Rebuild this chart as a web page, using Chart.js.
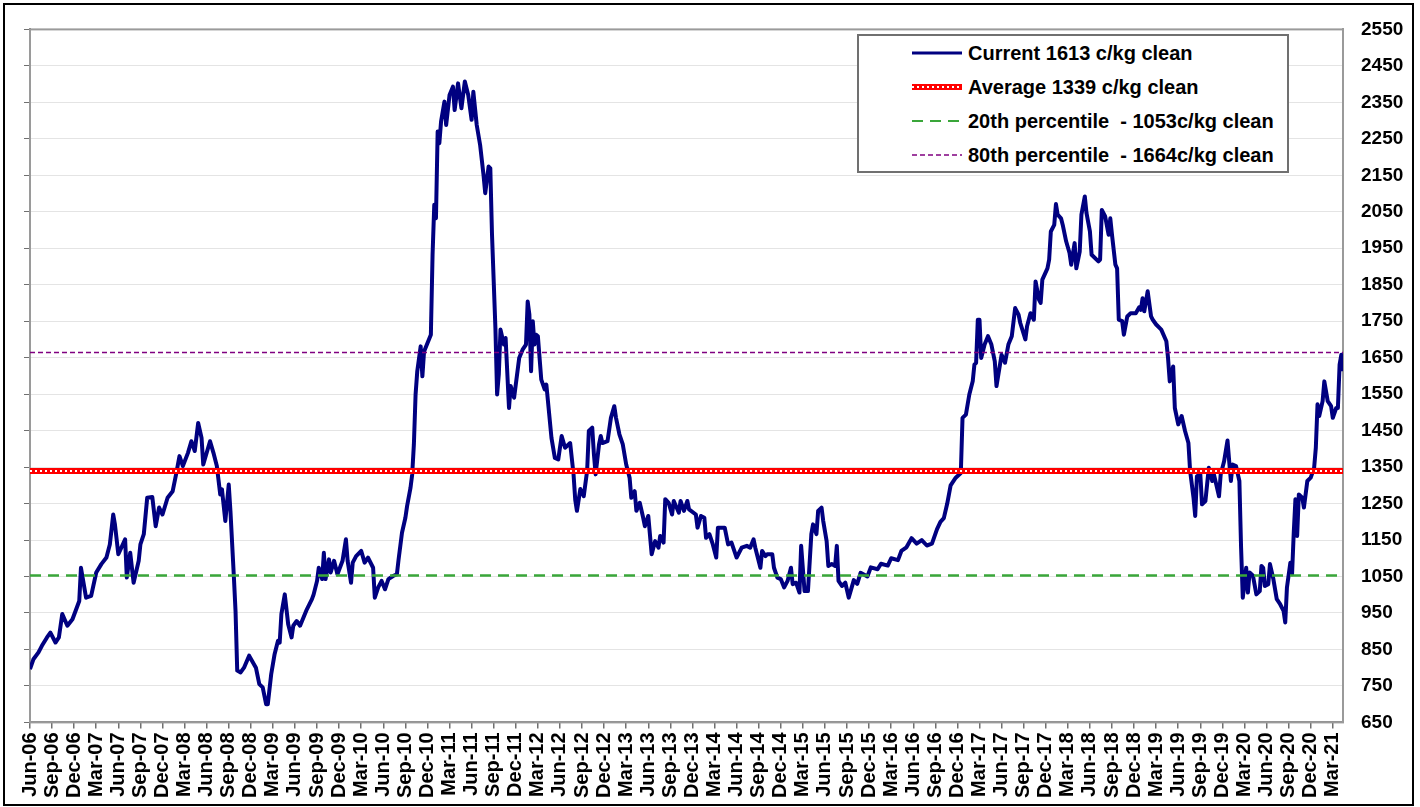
<!DOCTYPE html>
<html>
<head>
<meta charset="utf-8">
<script src="https://cdn.jsdelivr.net/npm/chart.js@4/dist/chart.umd.min.js"></script>
<style>
  body { margin: 0; background: #fff; }
  #wrap { position: relative; width: 1420px; height: 807px; font-family: Arial, "Liberation Sans", sans-serif; }
  #frame { position: absolute; left: 3px; top: 3px; width: 1411px; height: 803px; box-sizing: border-box; border: 2px solid #000; pointer-events: none; }
  #legend { position: absolute; left: 857px; top: 34px; width: 432px; height: 139px; box-sizing: border-box; border: 2px solid #707070; background: #fff; }
  .row { display: flex; align-items: center; height: 34px; padding-left: 53px; font-weight: bold; font-size: 20px; color: #000; white-space: pre; }
  .row svg { margin-right: 6px; }
</style>
</head>
<body>
<div id="wrap">
  <canvas id="chart"></canvas>
  <div id="legend"></div>
  <div id="frame"></div>
</div>
<script>
// weeks since first week of Jun-06, and price in c/kg clean
const weeks = [0,2,5,7,10,12,15,17,19,22,25,29,30,33,36,39,42,45,47,49,50,52,56,57,59,61,64,65,67,69,72,74,76,78,81,84,86,88,90,93,95,97,99,101,102,106,108,110,112,113,115,117,118,120,121,122,124,
  126,129,133,135,137,139,140,142,144,146,147,148,150,152,154,155,157,159,163,166,167,169,170,172,173,174,176,177,179,181,184,186,187,189,190,192,195,197,199,202,203,205,207,209,211,214,216,217,219,221,222,224,
  225,226,227,228,230,231,232,236,237,238,239,240,241,242,244,245,247,249,250,252,254,256,258,260,261,263,265,267,268,270,271,272,274,275,276,277,279,280,282,283,285,288,290,292,293,294,295,296,297,298,299,301,303,304,307,309,311,313,315,318,320,321,322,324,326,328,
  329,331,332,333,335,336,337,340,342,344,345,347,349,351,353,354,356,357,359,361,362,364,366,368,370,371,373,374,376,378,379,382,383,385,387,388,392,393,395,397,398,400,402,404,405,409,411,413,416,419,422,424,426,427,430,431,433,434,437,438,440,442,444,446,448,449,451,453,454,456,458,460,461,463,464,466,467,469,470,472,474,475,476,478,480,482,
  485,487,489,493,495,499,501,505,507,511,513,516,519,522,525,528,531,534,536,538,540,542,545,548,
  549,551,553,555,556,557,558,559,560,562,564,566,568,569,572,574,576,578,580,582,583,586,587,589,591,592,594,595,596,599,600,601,603,604,605,607,608,610,612,613,615,616,618,619,621,622,624,625,629,630,631,633,635,636,637,639,640,641,643,644,646,648,651,653,654,655,656,658,660,661,663,666,
  669,670,671,673,674,676,678,680,682,683,685,686,687,689,690,692,694,696,697,700,701,703,705,706,707,708,710,712,713,714,716,717,718,720,722,724,725,726,727,729,730,732,734,736,738,739,740,742,743,744,745,746,747,749,750,752,754,756,757,758,759,761,762,764,766,767,769,770,771,772,773];

const prices = [796,823,842,860,883,896,869,883,947,915,933,983,1074,992,997,1061,1084,1102,1138,1220,1193,1111,1152,1047,1115,1033,1093,1138,1166,1266,1268,1188,1239,1220,1266,1284,1330,1380,1353,1389,1421,1394,1471,1430,1357,1421,1389,1353,1275,1289,1202,1302,1230,1052,956,792,787,
  800,833,800,755,746,700,700,782,837,874,869,947,1001,919,883,915,928,915,960,988,1001,1038,1074,1043,1115,1043,1097,1061,1093,1056,1093,1152,1093,1033,1088,1106,1120,1088,1102,1074,992,1020,1038,1015,1043,1052,1056,1097,1170,1211,1243,1293,
  1330,1412,1549,1613,1681,1599,1667,1713,1932,2069,2032,2270,2238,2297,2352,2288,2370,2393,2329,2402,2334,2407,2370,2302,2379,2288,2233,2151,2101,2174,2169,1987,1731,1549,1604,1727,1686,1704,1512,1572,1540,1649,1672,1686,1804,1768,1613,1750,1686,1713,1709,1590,1563,1576,1430,1375,1371,1435,1403,1416,1330,1260,1230,1290,1270,1340,
  1449,1458,1385,1330,1412,1435,1416,1421,1485,1517,1485,1440,1412,1357,1321,1266,1284,1230,1252,1211,1188,1216,1111,1147,1129,1161,1143,1262,1252,1220,1257,1225,1257,1230,1257,1234,1220,1184,1216,1211,1156,1166,1138,1102,1184,1184,1138,1143,1102,1129,1134,1129,1152,1129,1074,1120,1106,1111,1111,1074,1047,1043,1020,1038,1074,1029,1033,1006,1134,1010,1010,1166,1193,1166,1230,1239,1202,1147,1079,1084,1079,1134,1038,1024,1033,992,
  1040,1030,1060,1050,1075,1070,1085,1080,1100,1095,1120,1130,1155,1140,1150,1135,1140,1180,1200,1210,1250,1300,1321,1334,
  1485,1494,1549,1585,1631,1636,1754,1754,1649,1686,1709,1686,1640,1572,1658,1636,1686,1709,1786,1768,1745,1700,1736,1772,1754,1859,1809,1800,1864,1895,1919,1996,2014,2071,2042,2032,2014,1969,1937,1905,1964,1895,1941,2042,2092,2046,1996,1932,1914,1919,2055,2037,1987,2032,1987,1905,1895,1754,1750,1713,1763,1772,1772,1788,1781,1813,1777,1832,1763,1754,1741,1727,
  1695,1649,1585,1626,1512,1467,1490,1449,1416,1339,1266,1216,1325,1330,1248,1257,1348,1312,1330,1270,1330,1366,1423,1366,1312,1357,1353,1312,1129,992,1074,1006,1061,1052,1001,1010,1079,1074,1024,1029,1084,1043,988,974,956,924,1020,1088,1056,1170,1262,1161,1275,1266,1239,1312,1321,1348,1403,1522,1490,1531,1585,1531,1517,1485,1512,1512,1631,1658,1613];

const quarterLabels = ['Jun-06','Sep-06','Dec-06','Mar-07','Jun-07','Sep-07','Dec-07','Mar-08','Jun-08','Sep-08','Dec-08','Mar-09',
  'Jun-09','Sep-09','Dec-09','Mar-10','Jun-10','Sep-10','Dec-10','Mar-11','Jun-11','Sep-11','Dec-11','Mar-12',
  'Jun-12','Sep-12','Dec-12','Mar-13','Jun-13','Sep-13','Dec-13','Mar-14','Jun-14','Sep-14','Dec-14','Mar-15',
  'Jun-15','Sep-15','Dec-15','Mar-16','Jun-16','Sep-16','Dec-16','Mar-17','Jun-17','Sep-17','Dec-17','Mar-18',
  'Jun-18','Sep-18','Dec-18','Mar-19','Jun-19','Sep-19','Dec-19','Mar-20','Jun-20','Sep-20','Dec-20','Mar-21'];

const weeksPerTick = 13;
const current = 1613;
const average = 1339;
const pct20 = 1053;
const pct80 = 1664;
const yMin = 650, yMax = 2550, yStep = 100;

const legendItems = [
  { text: 'Current ' + current + ' c/kg clean', kind: 'current' },
  { text: 'Average ' + average + ' c/kg clean', kind: 'average' },
  { text: '20th percentile  - ' + pct20 + 'c/kg clean', kind: 'p20' },
  { text: '80th percentile  - ' + pct80 + 'c/kg clean', kind: 'p80' }
];

const lastWeek = weeks[weeks.length - 1];
const flat = v => [{ x: 0, y: v }, { x: lastWeek, y: v }];
const FONT = 'Arial, "Liberation Sans", sans-serif';

// grey frame round the plot area
const plotFrame = {
  id: 'plotFrame',
  beforeDatasetsDraw(chart) {
    const { ctx, chartArea: a } = chart;
    ctx.save();
    ctx.strokeStyle = '#9a9a9a';
    ctx.lineWidth = 2;
    ctx.strokeRect(a.left, a.top, a.right - a.left, a.bottom - a.top);
    ctx.restore();
  }
};

new Chart(document.getElementById('chart'), {
  type: 'line',
  data: {
    datasets: [
      { label: 'avgDots', data: flat(average), borderColor: '#ffffff', borderWidth: 2, borderDash: [2, 3], order: 0 },
      { label: 'Average', data: flat(average), borderColor: '#ff0000', borderWidth: 6, order: 1 },
      { label: '20th', data: flat(pct20), borderColor: '#3aa63a', borderWidth: 2.5, borderDash: [11, 7], order: 2 },
      { label: '80th', data: flat(pct80), borderColor: '#800080', borderWidth: 1.5, borderDash: [5, 3], order: 3 },
      { label: 'Current', data: weeks.map((w, i) => ({ x: w, y: prices[i] })), borderColor: '#000080', borderWidth: 4, order: 4 }
    ]
  },
  options: {
    responsive: true,
    maintainAspectRatio: false,
    animation: false,
    parsing: false,
    layout: { padding: { left: 24, right: 17, top: 28, bottom: 5 } },
    elements: { point: { radius: 0 }, line: { tension: 0, borderJoinStyle: 'round' } },
    plugins: { legend: { display: false }, tooltip: { enabled: false } },
    scales: {
      x: {
        type: 'linear',
        min: 0,
        max: lastWeek,
        afterBuildTicks: scale => { scale.ticks = quarterLabels.map((_, i) => ({ value: i * weeksPerTick })); },
        ticks: {
          autoSkip: false,
          minRotation: 90,
          maxRotation: 90,
          padding: 4,
          color: '#000',
          font: { family: FONT, size: 20, weight: 'bold' },
          callback: (v, i) => quarterLabels[i]
        },
        grid: { drawOnChartArea: false, drawTicks: true, tickLength: 6, color: '#707070', lineWidth: 1.5 },
        border: { color: '#8a8a8a', width: 2 }
      },
      y: {
        position: 'right',
        min: yMin,
        max: yMax,
        afterFit: scale => { scale.width = 60; },
        ticks: { stepSize: yStep, padding: 18, color: '#000', font: { family: FONT, size: 19, weight: 'bold' }, callback: v => String(v) },
        grid: { color: '#e4e4e4', drawTicks: false },
        border: { color: '#9a9a9a', width: 2 }
      },
      yLeft: {
        position: 'left',
        min: yMin,
        max: yMax,
        ticks: { stepSize: yStep, display: false },
        grid: { drawOnChartArea: false, drawTicks: true, tickLength: 6, color: '#707070' },
        border: { color: '#808080', width: 2 }
      }
    }
  },
  plugins: [plotFrame]
});

// legend box
const samples = {
  current: '<line x1="0" y1="17" x2="50" y2="17" stroke="#000080" stroke-width="3"/>',
  average: '<line x1="0" y1="17" x2="50" y2="17" stroke="#ff0000" stroke-width="6"/><line x1="0" y1="17" x2="50" y2="17" stroke="#fff" stroke-width="2" stroke-dasharray="2 3"/>',
  p20: '<line x1="0" y1="17" x2="50" y2="17" stroke="#3aa63a" stroke-width="2" stroke-dasharray="11 7"/>',
  p80: '<line x1="0" y1="17" x2="50" y2="17" stroke="#800080" stroke-width="1.5" stroke-dasharray="5 3"/>'
};
document.getElementById('legend').innerHTML = legendItems.map(it =>
  '<div class="row"><svg width="50" height="34">' + samples[it.kind] + '</svg><span>' + it.text + '</span></div>'
).join('');
</script>
</body>
</html>
